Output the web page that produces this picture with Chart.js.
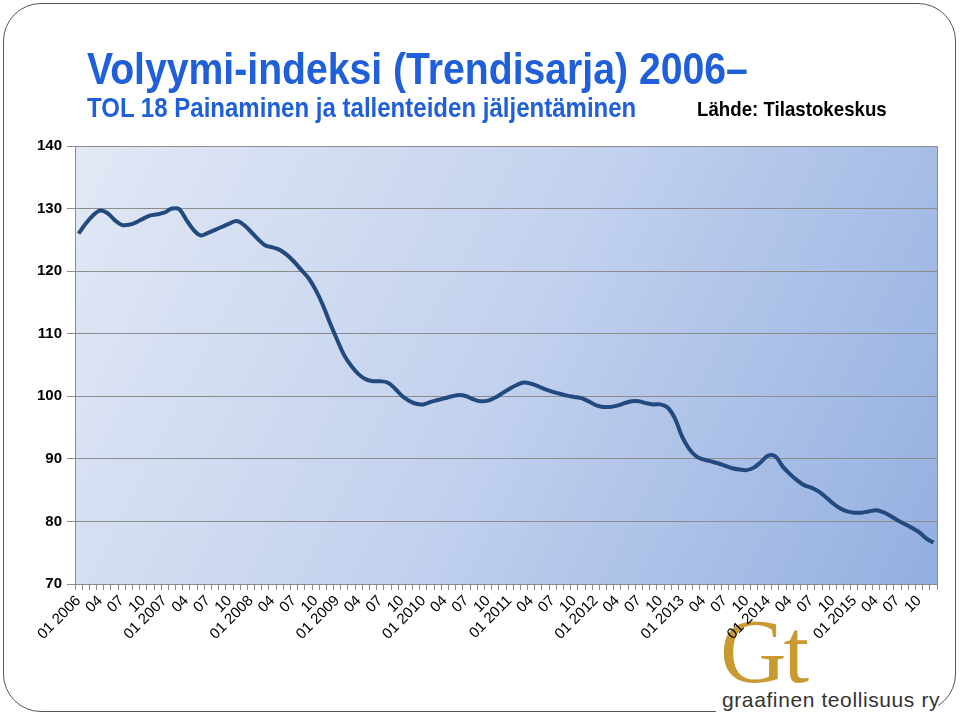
<!DOCTYPE html>
<html>
<head>
<meta charset="utf-8">
<script src="https://cdn.jsdelivr.net/npm/chart.js@4.4.1/dist/chart.umd.min.js"></script>
<style>
  html, body { margin: 0; padding: 0; background: #fff; }
  body { width: 960px; height: 717px; position: relative; overflow: hidden; font-family: "Liberation Sans", Arial, sans-serif; }
  #frame { position: absolute; left: 3px; top: 3px; width: 953px; height: 709px; border: 1.5px solid #555; border-radius: 38px; box-sizing: border-box; }
  #cover { position: absolute; left: 716px; top: 688px; width: 222px; height: 29px; background: #fff; }
  #logo { position: absolute; left: 714px; top: 606px; width: 246px; height: 111px; }
  #logo .gt { position: absolute; left: 6px; top: -8px; font-family: "Liberation Serif", "DejaVu Serif", serif; font-size: 92px; color: #c99a30; letter-spacing: -3px; }
  #logo .ry { position: absolute; left: 8px; top: 82px; font-size: 21px; color: #333; letter-spacing: 0.6px; white-space: nowrap; }
  #c { position: absolute; left: 0; top: 0; }
  .txt { position: absolute; white-space: nowrap; transform-origin: left top; font-weight: bold; }
  #title { left: 87px; top: 43px; font-size: 45px; color: #1f5fda; transform: scaleX(0.87); }
  #sub { left: 87px; top: 93px; font-size: 27px; color: #1f5fda; transform: scaleX(0.89); }
  #src { left: 697px; top: 97px; font-size: 21px; color: #000; transform: scaleX(0.89); }
</style>
</head>
<body>
<div id="frame"></div>
<div id="cover"></div>
<div id="logo"><div class="gt">Gt</div><div class="ry">graafinen teollisuus ry</div></div>
<canvas id="c" width="960" height="717"></canvas>
<div class="txt" id="title">Volyymi-indeksi (Trendisarja) 2006–</div>
<div class="txt" id="sub">TOL 18 Painaminen ja tallenteiden jäljentäminen</div>
<div class="txt" id="src">Lähde: Tilastokeskus</div>
<script>
const years = [2006, 2007, 2008, 2009, 2010, 2011, 2012, 2013, 2014, 2015];
const monthCodes = ['01', '02', '03', '04', '05', '06', '07', '08', '09', '10', '11', '12'];
const shownMonths = ['01', '04', '07', '10'];

// volyymi-indeksi, kuukausittain 01/2006 - 12/2015
const volyymi2006 = [126.0, 127.6, 128.9, 129.7, 129.3, 128.2, 127.4, 127.4, 127.8, 128.4, 128.9, 129.1];
const volyymi2007 = [129.4, 130.0, 129.9, 128.2, 126.6, 125.7, 126.1, 126.6, 127.1, 127.6, 128.0, 127.4];
const volyymi2008 = [126.3, 125.1, 124.1, 123.8, 123.4, 122.6, 121.5, 120.2, 118.9, 117.0, 114.6, 111.7];
const volyymi2009 = [109.0, 106.5, 104.8, 103.5, 102.7, 102.4, 102.4, 102.2, 101.3, 100.1, 99.3, 98.8];
const volyymi2010 = [98.7, 99.1, 99.4, 99.7, 100.0, 100.2, 100.0, 99.5, 99.2, 99.3, 99.8, 100.5];
const volyymi2011 = [101.2, 101.8, 102.2, 102.0, 101.6, 101.1, 100.7, 100.4, 100.1, 99.9, 99.7, 99.2];
const volyymi2012 = [98.6, 98.3, 98.3, 98.5, 98.9, 99.2, 99.2, 98.9, 98.7, 98.7, 98.2, 96.5];
const volyymi2013 = [93.6, 91.6, 90.4, 89.9, 89.6, 89.3, 88.9, 88.5, 88.3, 88.2, 88.6, 89.5];
const volyymi2014 = [90.5, 90.4, 88.8, 87.6, 86.6, 85.8, 85.4, 84.8, 83.9, 82.9, 82.1, 81.6];
const volyymi2015 = [81.4, 81.4, 81.6, 81.8, 81.5, 80.9, 80.2, 79.6, 79.0, 78.3, 77.3, 76.6];

const yMin = 70, yMax = 140, yStep = 10;

const categories = [];
years.forEach(y => monthCodes.forEach(m => categories.push(m === '01' ? '01 ' + y : m)));
const values = [].concat(volyymi2006, volyymi2007, volyymi2008, volyymi2009, volyymi2010,
  volyymi2011, volyymi2012, volyymi2013, volyymi2014, volyymi2015);

const plotBackground = {
  id: 'plotBackground',
  beforeDraw(chart) {
    const a = chart.chartArea, ctx = chart.ctx;
    const g = ctx.createLinearGradient(a.left, a.top, a.right, a.bottom);
    g.addColorStop(0, '#e2e8f5');
    g.addColorStop(0.5, '#c2d1ee');
    g.addColorStop(1, '#93afe0');
    ctx.save();
    ctx.fillStyle = g;
    ctx.fillRect(a.left, a.top, a.right - a.left, a.bottom - a.top);
    ctx.restore();
  },
  afterDraw(chart) {
    const a = chart.chartArea, ctx = chart.ctx;
    ctx.save();
    ctx.strokeStyle = '#8c8c8c';
    ctx.lineWidth = 1;
    ctx.strokeRect(a.left + 0.5, a.top + 0.5, a.right - a.left, a.bottom - a.top);
    ctx.restore();
  }
};

new Chart(document.getElementById('c'), {
  type: 'line',
  data: {
    labels: categories,
    datasets: [{
      data: values,
      borderColor: '#234a7e',
      borderWidth: 4,
      pointRadius: 0,
      tension: 0.35,
      fill: false
    }]
  },
  options: {
    responsive: false,
    animation: false,
    events: [],
    layout: { padding: { left: 0, top: 146, right: 23, bottom: 0 } },
    plugins: { legend: { display: false }, tooltip: { enabled: false } },
    scales: {
      x: {
        offset: true,
        afterFit: s => { s.height = 133; },
        grid: { offset: true, drawOnChartArea: false, drawTicks: true, tickLength: 6, color: '#8c8c8c' },
        border: { color: '#8c8c8c' },
        ticks: {
          autoSkip: false,
          minRotation: 45,
          maxRotation: 45,
          padding: 2,
          color: '#000',
          font: { family: '"Liberation Sans", Arial, sans-serif', size: 15 },
          callback: function(v, i) {
            const m = monthCodes[i % 12];
            return shownMonths.includes(m) ? categories[i] : '';
          }
        }
      },
      y: {
        min: yMin,
        max: yMax,
        afterFit: s => { s.width = 75; },
        grid: { color: '#8c8c8c', drawTicks: true, tickLength: 8 },
        border: { color: '#8c8c8c' },
        ticks: {
          stepSize: yStep,
          padding: 5,
          color: '#000',
          font: { family: '"Liberation Sans", Arial, sans-serif', size: 15, weight: 'bold' }
        }
      }
    }
  },
  plugins: [plotBackground]
});
</script>
</body>
</html>
